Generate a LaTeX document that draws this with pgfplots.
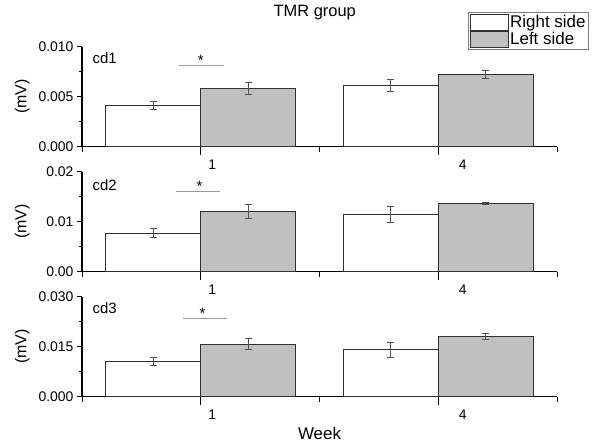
\documentclass[border=0pt]{standalone}
\usepackage{pgfplots}
\pgfplotsset{compat=1.18}
\usepackage{fontspec}
\setmainfont{Liberation Sans}
\definecolor{leftfill}{HTML}{C0C0C0}
\definecolor{edge}{HTML}{303030}
\definecolor{errc}{HTML}{505050}
\definecolor{sigc}{HTML}{9A9A9A}

\pgfplotsset{
  panel/.style={
    scale only axis, width=475bp, height=100bp,
    xmin=-0.5, xmax=1.5, ymin=0,
    axis x line*=bottom, axis y line*=left,
    axis line style={-, line width=1.1bp, black},
    tick align=outside,
    major tick length=5bp, minor tick length=3bp,
    tick style={black, line width=1bp},
    xtick={-0.5,0,0.5,1,1.5},
    xticklabels={,\hspace{23bp}1,,\hspace{49bp}4,},
    extra x ticks={0,1}, extra x tick labels={},
    extra x tick style={major tick length=8bp},
    scaled y ticks=false,
    tick label style={font=\fontsize{14}{14}\selectfont},
    x tick label style={yshift=-5bp},
    ylabel={(mV)},
    ylabel style={at={(axis description cs:-0.126,0.5)}, anchor=center, font=\fontsize{16}{16}\selectfont},
    clip=false,
  },
  rbar/.style={ybar, bar width=0.4, bar shift=0pt, fill=white, draw=edge, line width=0.8bp,
    legend image code/.code={\draw[fill=white, draw=edge, line width=0.8bp] (0bp,-8bp) rectangle (38bp,8bp);},
    error bars/.cd, y dir=both, y explicit,
    error bar style={errc, line width=0.7bp},
    error mark options={rotate=90, errc, mark size=3.5bp, line width=0.7bp}},
  lbar/.style={ybar, bar width=0.4, bar shift=0pt, fill=leftfill, draw=edge, line width=0.8bp,
    legend image code/.code={\draw[fill=leftfill, draw=edge, line width=0.8bp] (0bp,-8bp) rectangle (38bp,8bp);},
    error bars/.cd, y dir=both, y explicit,
    error bar style={errc, line width=0.7bp},
    error mark options={rotate=90, errc, mark size=3.5bp, line width=0.7bp}},
  sig/.style={sigc, line width=1bp, no marks, forget plot},
}

\begin{document}
\begin{tikzpicture}
\useasboundingbox (0,0) rectangle (592bp,444bp);

% ---------- panel 1 ----------
\begin{axis}[panel, at={(82bp,297.3bp)}, anchor=south west,
  ymax=0.010, ytick={0,0.005,0.010}, minor ytick={0.0025,0.0075},
  yticklabels={0.000,0.005,0.010},
  title={TMR group},
  title style={at={(axis description cs:0.490,1.285)}, anchor=center, font=\fontsize{16.5}{16.5}\selectfont},
  legend style={at={(axis description cs:0.813,1.347)}, anchor=north west,
    draw=gray, line width=0.8bp, font=\fontsize{17}{17}\selectfont,
    inner sep=1bp, row sep=0bp, nodes={inner sep=1.8bp}},
  legend cell align=left,
]
\addplot[rbar] coordinates {(-0.2,0.0041) +- (0,0.0004) (0.8,0.0061) +- (0,0.0006)};
\addlegendentry{Right side}
\addplot[lbar] coordinates {(0.2,0.0058) +- (0,0.0006) (1.2,0.0072) +- (0,0.0004)};
\addlegendentry{Left side}
\addplot[sig] coordinates {(-0.093,0.0081) (0.096,0.0081)};
\node[anchor=base, font=\fontsize{15}{15}\selectfont, inner sep=0pt] at (axis cs:0,0.0081) {*};
\node[anchor=west, font=\fontsize{15}{15}\selectfont, inner sep=0pt] at (axis description cs:0.022,0.885) {cd1};
\end{axis}

% ---------- panel 2 ----------
\begin{axis}[panel, at={(82bp,172.3bp)}, anchor=south west,
  ymax=0.02, ytick={0,0.01,0.02}, minor ytick={0.005,0.015},
  yticklabels={0.00,0.01,0.02},
]
\addplot[rbar] coordinates {(-0.2,0.0077) +- (0,0.0009) (0.8,0.0114) +- (0,0.0016)};
\addplot[lbar] coordinates {(0.2,0.0120) +- (0,0.0014) (1.2,0.0137) +- (0,0.0002)};
\addplot[sig] coordinates {(-0.103,0.0160) (0.083,0.0160)};
\node[anchor=base, font=\fontsize{15}{15}\selectfont, inner sep=0pt] at (axis cs:-0.005,0.0160) {*};
\node[anchor=west, font=\fontsize{15}{15}\selectfont, inner sep=0pt] at (axis description cs:0.022,0.87) {cd2};
\end{axis}

% ---------- panel 3 ----------
\begin{axis}[panel, at={(82bp,47.3bp)}, anchor=south west,
  ymax=0.03, ytick={0,0.015,0.03}, minor ytick={0.0075,0.0225},
  yticklabels={0.000,0.015,0.030},
  xlabel={Week},
  xlabel style={at={(axis description cs:0.5,-0.37)}, anchor=center, font=\fontsize{17}{17}\selectfont},
]
\addplot[rbar] coordinates {(-0.2,0.0105) +- (0,0.0012) (0.8,0.0141) +- (0,0.0022)};
\addplot[lbar] coordinates {(0.2,0.0158) +- (0,0.0017) (1.2,0.0181) +- (0,0.0009)};
\addplot[sig] coordinates {(-0.075,0.0235) (0.112,0.0235)};
\node[anchor=base, font=\fontsize{15}{15}\selectfont, inner sep=0pt] at (axis cs:0.008,0.0235) {*};
\node[anchor=west, font=\fontsize{15}{15}\selectfont, inner sep=0pt] at (axis description cs:0.022,0.886) {cd3};
\end{axis}
\end{tikzpicture}
\end{document}
